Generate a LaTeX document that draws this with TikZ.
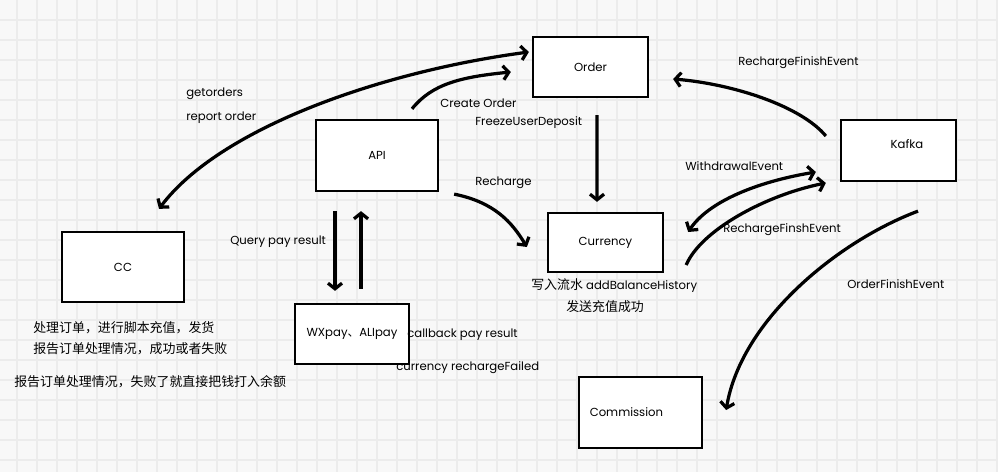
\documentclass[tikz,border=0pt]{standalone}
\usepackage{fontspec}
\setmainfont{Poppins}
\newfontfamily\cjk{Noto Sans CJK SC}
\usepackage{xcolor}
\usepackage{tikz}
\usetikzlibrary{calc}
\usetikzlibrary{positioning}
\usetikzlibrary{arrows.meta}

\definecolor{paper}{HTML}{F8F8F8}
\definecolor{gridgray}{HTML}{ECECEC}

\begin{document}
\begin{tikzpicture}[x=0.025cm,y=-0.025cm,
      font=\fontsize{8.3}{9.5}\selectfont,
      box style/.style={rectangle,draw=black,fill=white,line width=1.6pt,
        align=center},
      arr style/.style={line width=2.3pt,
        -{Straight Barb[length=4pt,width=10pt]}},
      both style/.style={line width=2.3pt,
        {Straight Barb[length=4pt,width=10pt]}-{Straight Barb[length=4pt,width=10pt]}},
      lbl style/.style={anchor=west,inner sep=0pt},
      zh style/.style={anchor=west,inner sep=0pt,
        font=\cjk\fontsize{9.2}{11}\selectfont}
      ]
      \fill[paper] (0,0) rectangle (998,472);
      \useasboundingbox (0,0) rectangle (998,472);
      \foreach \gx in {17,37,...,997}
        \draw[gridgray,line width=1pt] (\gx,0) -- (\gx,472);
      \foreach \gy in {20,40,...,460}
        \draw[gridgray,line width=1pt] (0,\gy) -- (998,\gy);

      \node[box style,minimum width=2.875cm,minimum height=1.5cm] (order) at (590.5,67) {Order};
      \node[box style,minimum width=3.05cm,minimum height=1.775cm] (api) at (377,155.5) {API};
      \node[box style,minimum width=2.875cm,minimum height=1.525cm] (kafka) at (898.5,150.5) {\hspace{12pt}\raisebox{8.5pt}{Kafka}};
      \node[box style,minimum width=2.875cm,minimum height=1.475cm] (currency) at (605.5,242.5) {Currency};
      \node[box style,minimum width=3.05cm,minimum height=1.75cm] (cc) at (123,267) {CC};
      \node[box style,minimum width=2.85cm,minimum height=1.5cm] (wxpay) at (352,334) {WXpay{\cjk 、}ALIpay};
      \node[box style,minimum width=3.075cm,minimum height=1.775cm] (commission) at (640.5,412.5) {Commission\hspace{20pt}};

      \node[lbl style] (getorders) at (186,94) {getorders};
      \node[lbl style] (reportorder) at (186,118) {report order};
      \node[lbl style] (createorder) at (440,103) {Create Order};
      \node[lbl style] (freeze) at (475,123) {FreezeUserDeposit};
      \node[lbl style] (recharge) at (475,183) {Recharge};
      \node[lbl style] (rfinish) at (738,63) {RechargeFinishEvent};
      \node[lbl style] (withdrawal) at (685,166) {WithdrawalEvent};
      \node[lbl style] (rfinsh) at (723,230) {RechargeFinshEvent};
      \node[lbl style] (ofinish) at (847,284) {OrderFinishEvent};
      \node[lbl style] (query) at (230,242) {Query pay result};
      \node[lbl style] (callback) at (407,335) {callback pay result};
      \node[lbl style] (failed) at (396,368) {currency rechargeFailed};
      \node[lbl style] (history) at (531,286) {{\cjk\fontsize{9.2}{11}\selectfont 写入流水} addBalanceHistory};
      \node[zh style] (sendok) at (566,307) {发送充值成功};
      \node[zh style] (cctask) at (33,328) {处理订单，进行脚本充值，发货};
      \node[zh style] (ccreport) at (33,349) {报告订单处理情况，成功或者失败};
      \node[zh style] (ccfail) at (14,382) {报告订单处理情况，失败了就直接把钱打入余额};

      \draw[both style] ($(cc.north)+(36,-22)$) .. controls +(60,-80) and +(-150,20) .. ($(order.west)+(-3,-15)$);
      \draw[arr style] ($(api.north)+(35,-10)$) .. controls +(20,-25) and +(-50,5) .. ($(order.west)+(-21,5)$);
      \draw[arr style] ($(order.south)+(6.5,17)$) -- ($(currency.north)+(-8.5,-10)$);
      \draw[arr style] ($(api.south east)+(15,2)$) .. controls +(40,8) and +(-15,-25) .. ($(currency.west)+(-20,4.5)$);
      \draw[arr style] ($(kafka.west)+(-14,-14.5)$) .. controls +(-25,-30) and +(60,5) .. ($(order.east)+(24,12)$);
      \draw[both style] ($(currency.east)+(24,-10.5)$) .. controls +(20,-30) and +(-60,10) .. ($(kafka.west)+(-24,21.5)$);
      \draw[arr style] ($(currency.east)+(22,22.5)$) .. controls +(15,-35) and +(-60,12) .. ($(kafka.west)+(-14,32.5)$);
      \draw[arr style] ($(kafka.south)+(19.5,29)$) .. controls +(-80,30) and +(15,-90) .. ($(commission.east)+(23,-2.5)$);
      \draw[arr style] ($(api.south)+(-42,19)$) -- ($(wxpay.north)+(-17,-12)$);
      \draw[arr style] ($(wxpay.north)+(9,-14)$) -- ($(api.south)+(-16,19)$);
    \end{tikzpicture}
\end{document}
